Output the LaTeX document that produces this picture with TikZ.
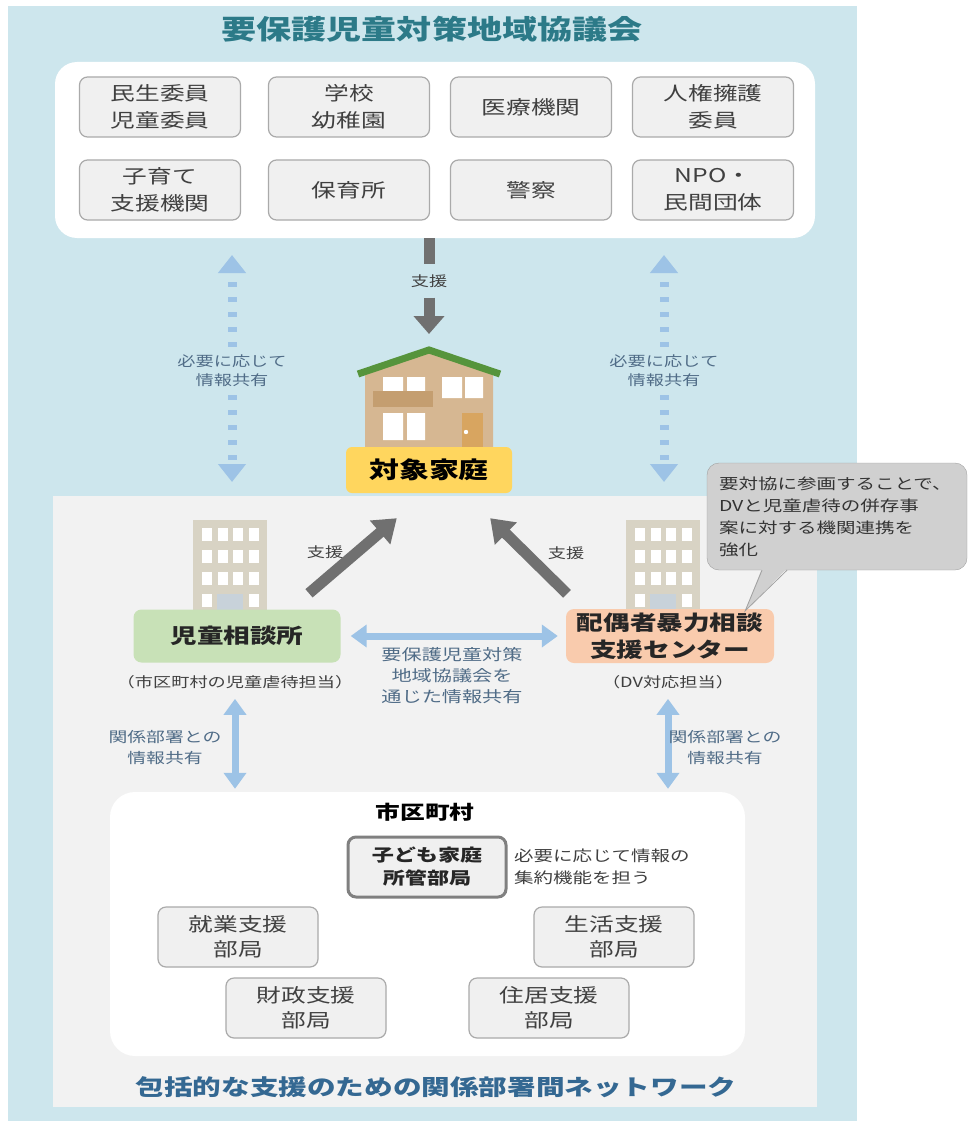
\documentclass[tikz,border=0pt]{standalone}
\usepackage{fontspec}
\setmainfont[FakeStretch=1.3]{Noto Sans CJK JP}
\usetikzlibrary{arrows.meta,positioning}

\definecolor{panelblue}{RGB}{205,230,237}
\definecolor{panelgrey}{RGB}{242,242,242}
\definecolor{boxfill}{RGB}{240,240,240}
\definecolor{boxline}{RGB}{170,170,170}
\definecolor{titleteal}{RGB}{44,122,136}
\definecolor{titleblue}{RGB}{52,104,146}
\definecolor{sharetext}{RGB}{80,108,135}
\definecolor{arrowblue}{RGB}{157,195,230}
\definecolor{arrowgrey}{RGB}{112,112,112}
\definecolor{labelgrey}{RGB}{64,64,64}
\definecolor{famyellow}{RGB}{255,214,94}
\definecolor{jidogreen}{RGB}{200,225,183}
\definecolor{dvorange}{RGB}{249,203,173}
\definecolor{roofgreen}{RGB}{86,148,60}
\definecolor{walltan}{RGB}{214,183,146}
\definecolor{balcony}{RGB}{196,158,112}
\definecolor{doorbrown}{RGB}{216,165,96}
\definecolor{bldg}{RGB}{216,211,196}
\definecolor{bldgdoor}{RGB}{200,210,218}
\definecolor{bubble}{RGB}{208,208,208}
\definecolor{bubbleline}{RGB}{160,160,160}

\tikzset{
  member/.style={draw=boxline, fill=boxfill, line width=1.2pt, rounded corners=8pt,
    minimum width=161pt, minimum height=60pt, inner sep=2pt, align=center,
    text=labelgrey, font=\fontsize{19}{27}\selectfont},
  dept/.style={member, minimum width=160pt, font=\fontsize{19}{25}\selectfont},
  agency/.style={rounded corners=8pt, minimum width=207pt, minimum height=53pt,
    inner sep=2pt, align=center, text=black!85, font=\bfseries\fontsize{20.5}{27}\selectfont},
  share/.style={text=sharetext, align=center, inner sep=8pt, font=\fontsize{14}{19}\selectfont},
  support/.style={text=labelgrey, inner sep=2pt, font=\fontsize{14}{16}\selectfont},
  caption/.style={text=labelgrey, inner sep=2pt, font=\fontsize{14}{16}\selectfont},
  darkbar/.style={draw=arrowgrey, line width=11pt},
  dotbar/.style={draw=arrowblue, line width=9pt, dash pattern=on 5pt off 10pt,
    -{Triangle[width=27pt,length=18pt]}},
  bluebar/.style={draw=arrowblue, line width=7pt,
    {Triangle[width=22pt,length=16pt]}-{Triangle[width=22pt,length=16pt]}}
}

\begin{document}
\begin{tikzpicture}[x=1pt,y=-1pt]
\useasboundingbox (0,0) rectangle (968,1126);

% Panels
\fill[panelblue] (8,6) rectangle (857,1121);
\fill[panelgrey] (53,496) rectangle (817,1107);
\node[fill=white, rounded corners=22pt, minimum width=760pt, minimum height=176pt,
  inner sep=0pt] (board) at (435,150) {};
\node[text=titleteal, font=\bfseries\fontsize{27}{30}\selectfont] (title) at (432,29)
  {要保護児童対策地域協議会};

% Members of the council
\foreach \name/\x/\y/\txt in {
    minsei/160/107/{民生委員\\児童委員}, gakko/349/107/{学校\\幼稚園},
    iryo/531/107/{医療機関}, jinken/713/107/{人権擁護\\委員},
    kosodate/160/190/{子育て\\支援機関}, hoiku/349/190/{保育所},
    keisatsu/531/190/{警察}, npo/713/190/{NPO・\\民間団体}}
  \node[member] (\name) at (\x,\y) {\txt};

% Support from the council
\node[support, inner sep=10pt] (topsup) at (429,281) {支援};
\coordinate (roof) at (429,350);
\draw[darkbar] (topsup.north |- board.south) -- (topsup.north);
\draw[darkbar, -{Triangle[width=30pt,length=18pt]}] (topsup.south) -- ([yshift=16pt]roof);

% House
\fill[walltan] (365,448) -- (365,372) -- (roof) -- (493,372) -- (493,448) -- cycle;
\draw[roofgreen, line width=7pt, line join=miter] (358,374) -- (roof) -- (500,374);
\fill[white] (383,377) rectangle (403,391) (407,377) rectangle (425,391);
\fill[balcony] (373,391) rectangle (433,407);
\fill[white] (442,377) rectangle (462,398) (465,377) rectangle (483,398);
\fill[white] (383,413) rectangle (403,440) (407,413) rectangle (425,440);
\fill[doorbrown] (462,413) rectangle (483,448);
\fill[white] (466,432) circle (2.2);
\node[fill=famyellow, rounded corners=6pt, minimum width=166pt, minimum height=46pt,
  inner sep=0pt, font=\bfseries\fontsize{23}{26}\selectfont] (family) at (429,470) {対象家庭};

% Information sharing inside the council
\foreach \side/\x in {L/232, R/664} {
  \node[share] (share\side) at (\x,371) {必要に応じて\\情報共有};
  \coordinate (share\side top) at (\x,255);
  \coordinate (share\side bot) at (\x,482);
  \draw[dotbar] (share\side.north) -- (share\side top);
  \draw[dotbar] (share\side.south) -- (share\side bot);
}

% Office buildings
\foreach \bx in {193,626} {
  \fill[bldg] (\bx,520) rectangle ++(74,92);
  \foreach \c in {0,...,3}
    \foreach \r in {0,...,2}
      \fill[white] (\bx+9+\c*15.5,528+\r*22) rectangle ++(10,13);
  \fill[white] (\bx+9,594) rectangle ++(10,13);
  \fill[white] (\bx+55.5,594) rectangle ++(10,13);
  \fill[bldgdoor] (\bx+24,594) rectangle ++(26,18);
}

% Agencies
\node[agency, fill=jidogreen] (jido) at (237,636) {児童相談所};
\node[agency, fill=dvorange, minimum width=208pt, minimum height=54pt] (dv) at (670,636)
  {配偶者暴力相談\\支援センター};
\node[caption] (jidocap) at (235,682) {（市区町村の児童虐待担当）};
\node[caption] (dvcap) at (668,682) {（DV対応担当）};

\coordinate (supLtail) at ([xshift=72pt,yshift=16pt]jido.north);
\coordinate (supRtail) at ([xshift=-103pt,yshift=15pt]dv.north);
\draw[darkbar, -{Triangle[width=30pt,length=22pt]}] (supLtail)
  -- ([xshift=51pt,yshift=-25pt]family.south west);
\draw[darkbar, -{Triangle[width=30pt,length=22pt]}] (supRtail)
  -- ([xshift=-22pt,yshift=-25pt]family.south east);
\node[support] (supL) at (325,552) {支援};
\node[support] (supR) at (566,553) {支援};

\draw[bluebar] ([xshift=10pt]jido.east) -- ([xshift=-8pt]dv.west);
\node[share, inner sep=2pt, font=\fontsize{15.5}{21}\selectfont] (council) at (452,676)
  {要保護児童対策\\地域協議会を\\通じた情報共有};

% Callout
\node[draw=bubbleline, fill=bubble, rounded corners=12pt, minimum width=260pt,
  minimum height=107pt, text width=236pt, align=left, inner sep=0pt, text=black!80,
  font=\fontsize{15}{22}\selectfont] (note) at (837,516.5)
  {要対協に参画することで、\\DVと児童虐待の併存事\\案に対する機関連携を\\強化};
\coordinate (notetip) at ([xshift=-29pt,yshift=-2pt]dv.north east);
\fill[bubble] ([xshift=-75pt,yshift=2pt]note.south) -- (notetip)
  -- ([xshift=-50pt,yshift=2pt]note.south) -- cycle;
\draw[bubbleline, line width=0.8pt] ([xshift=-75pt]note.south) -- (notetip)
  -- ([xshift=-50pt]note.south);

% Municipality
\node[fill=white, rounded corners=25pt, minimum width=635pt, minimum height=264pt,
  inner sep=0pt] (city) at (427.5,924) {};
\node[font=\bfseries\fontsize{19}{22}\selectfont] (citytitle) at (425,812) {市区町村};

\draw[bluebar, shorten <=8pt, shorten >=3pt] (jidocap.south) -- (jidocap.south |- city.north);
\draw[bluebar, shorten <=8pt, shorten >=3pt] (dvcap.south) -- (dvcap.south |- city.north);
\node[share, inner sep=2pt, font=\fontsize{14.5}{21}\selectfont] (linkL) at (165,748)
  {関係部署との\\情報共有};
\node[share, inner sep=2pt, font=\fontsize{14.5}{21}\selectfont] (linkR) at (725,748)
  {関係部署との\\情報共有};

\node[member, draw=black!50, line width=3pt, minimum width=158pt, text=black!85,
  font=\bfseries\fontsize{17}{23}\selectfont] (kodomo) at (427,867) {子ども家庭\\所管部局};
\node[anchor=west, align=left, inner sep=0pt, text=labelgrey,
  font=\fontsize{15}{22}\selectfont] (kodomonote) at (514,867)
  {必要に応じて情報の\\集約機能を担う};

\foreach \name/\x/\y/\txt in {
    shugyo/238/937/{就業支援\\部局}, seikatsu/614/937/{生活支援\\部局},
    zaisei/306/1008/{財政支援\\部局}, jukyo/549/1008/{住居支援\\部局}}
  \node[dept] (\name) at (\x,\y) {\txt};

\node[text=titleblue, font=\bfseries\fontsize{22}{26}\selectfont] (nettitle) at (436,1087)
  {包括的な支援のための関係部署間ネットワーク};
\end{tikzpicture}
\end{document}
